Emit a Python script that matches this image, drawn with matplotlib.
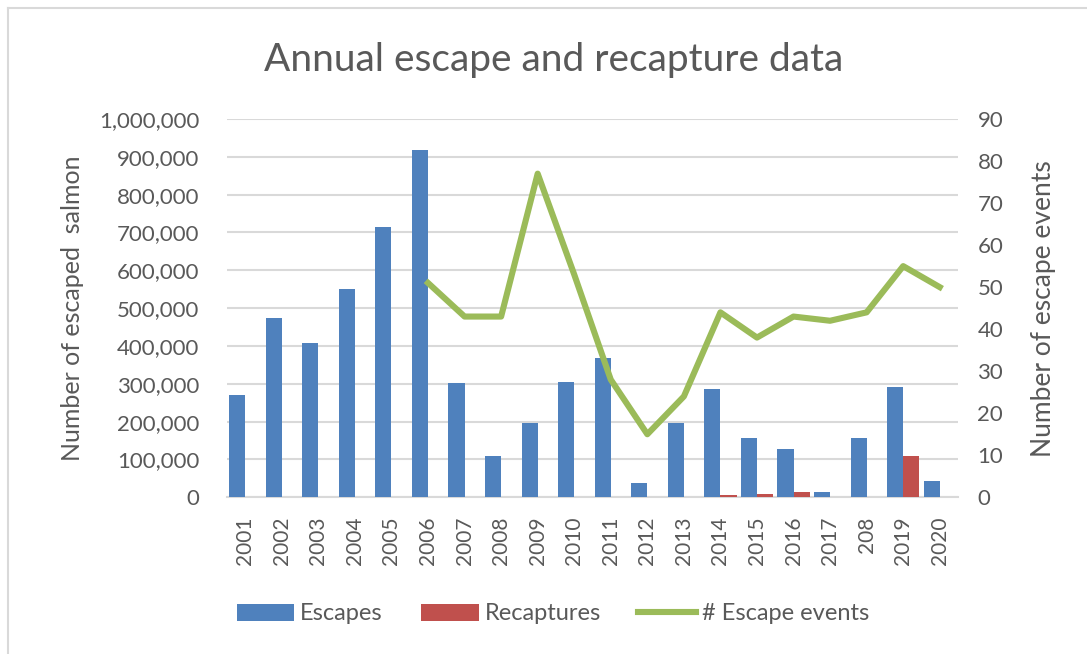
import matplotlib
matplotlib.use("Agg")
import matplotlib.pyplot as plt
import numpy as np

years = ["2001", "2002", "2003", "2004", "2005", "2006", "2007", "2008", "2009", "2010",
         "2011", "2012", "2013", "2014", "2015", "2016", "2017", "208", "2019", "2020"]
escapes = [271000, 475000, 409000, 551000, 715000, 919000, 301000, 110000, 196000, 306000,
           367000, 37000, 196000, 287000, 156000, 127000, 15000, 156000, 291000, 43000]
recaptures = [0, 0, 0, 0, 0, 0, 0, 0, 0, 0,
              0, 0, 0, 5000, 9000, 13000, 0, 0, 110000, 0]
# escape events only reported from 2006
event_years = years[5:]
events = [51, 43, 43, 77, 53, 28, 15, 24, 44, 38, 43, 42, 44, 55, 50]

plt.rcParams['font.family'] = ['Lato', 'DejaVu Sans']
txt = '#595959'
grid = '#d9d9d9'

fig = plt.figure(figsize=(10.87, 6.54), dpi=100)
ax = fig.add_axes([227/1087, 1-497.3/654, (958-227)/1087, (497.3-119)/654])
ax2 = ax.twinx()

x = np.arange(len(years))
w = 0.44
ax.bar(x - w/2, escapes, width=w, color='#4f81bd', label='Escapes', zorder=3)
ax.bar(x + w/2, recaptures, width=w, color='#c0504d', label='Recaptures', zorder=3)
ex = [years.index(y) for y in event_years]
ax2.plot(ex, events, color='#9bbb59', lw=4.4, solid_joinstyle='round', label='# Escape events', zorder=4)

ax.set_xlim(-0.5, len(years) - 0.5)
ax.set_ylim(0, 1000000)
ax2.set_ylim(0, 90)
ax.set_yticks(np.arange(0, 1000001, 100000))
ax.set_yticklabels(['{:,}'.format(v) for v in range(0, 1000001, 100000)])
ax2.set_yticks(np.arange(0, 91, 10))
ax.set_xticks(x)
ax.set_xticklabels(years, rotation=90, va='top', ha='center')

ax.yaxis.grid(True, color=grid, lw=1.5, zorder=0)
ax.set_axisbelow(True)
for a in (ax, ax2):
    for s in a.spines.values():
        s.set_visible(False)
    a.tick_params(length=0, colors=txt, labelsize=16)
ax.spines['bottom'].set_visible(True)
ax.spines['bottom'].set_color(grid)
ax.spines['bottom'].set_linewidth(1.5)
ax.tick_params(axis='y', pad=20)
ax.tick_params(axis='x', pad=14, labelsize=15)
ax2.tick_params(axis='y', pad=14)

ax.set_ylabel('Number of escaped  salmon', color=txt, fontsize=18, labelpad=11)
ax2.set_ylabel('Number of escape events', color=txt, fontsize=19, labelpad=20)

fig.text(553.5/1087, 1-71/654, 'Annual escape and recapture data', color=txt,
         fontsize=28, ha='center', va='baseline')

h1, l1 = ax.get_legend_handles_labels()
h2, l2 = ax2.get_legend_handles_labels()
fig.legend(h1 + h2, l1 + l2, loc='center', bbox_to_anchor=(553/1087, 1-614/654), ncol=3,
           frameon=False, fontsize=17, labelcolor=txt, handlelength=2.45,
           handletextpad=0.25, columnspacing=1.6)

# chart frame edges visible in the screenshot
fig.add_artist(plt.Line2D([8/1087, 8/1087], [0, 1-8/654], color=grid, lw=1.5))
fig.add_artist(plt.Line2D([8/1087, 1], [1-8/654, 1-8/654], color=grid, lw=1.5))

fig.savefig('out.png', dpi=100)
